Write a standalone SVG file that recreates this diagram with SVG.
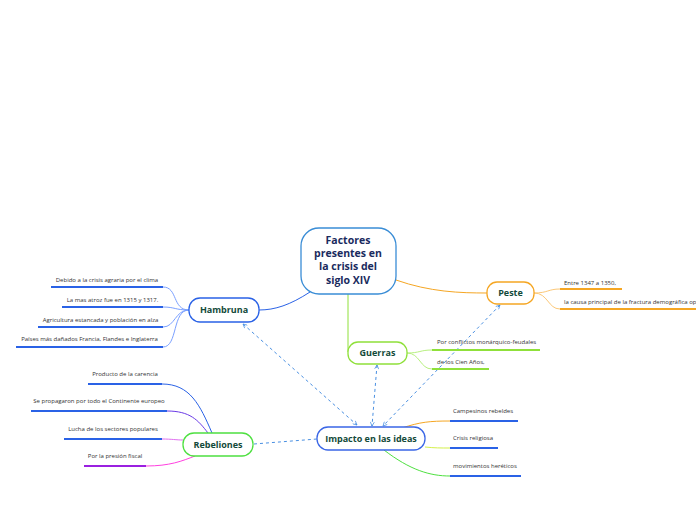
<svg xmlns="http://www.w3.org/2000/svg" width="696" height="520" viewBox="0 0 696 520">
<defs>
<style>
.nt{font-family:"Open Sans","Noto Sans",sans-serif;font-weight:bold;font-size:9px;fill:#134a3a;text-anchor:middle}
.ct{font-family:"Open Sans","Noto Sans",sans-serif;font-weight:bold;font-size:10.5px;fill:#1a2b5e;text-anchor:middle}
.lt{font-family:"Open Sans","Noto Sans",sans-serif;font-size:6px;fill:#333;text-anchor:middle}
.ltl{font-family:"Open Sans","Noto Sans",sans-serif;font-size:6px;fill:#333}
.node{fill:#fff;stroke-width:1.3}
.ul{fill:none;stroke-width:2}
.cv{fill:none;stroke-width:1}
.dash{fill:none;stroke:#4a90e2;stroke-width:1;stroke-dasharray:3 3}
</style>
<marker id="ah" viewBox="0 0 10 10" refX="9" refY="5" markerWidth="5" markerHeight="5" orient="auto-start-reverse">
<path d="M1,1 L9,5 L1,9" fill="none" stroke="#4a90e2" stroke-width="1.5"/>
</marker>
</defs>
<rect width="696" height="520" fill="#fff"/>
<g id="connectors">
<path class="cv" d="M310,292 C290,305 275,310 259,310" stroke="#2a62e6" stroke-width="1.3"/>
<path class="cv" d="M396,280 C430,292 460,293 487,293" stroke="#f5a623" stroke-width="1.3"/>
<path class="cv" d="M348,294 L348,352" stroke="#8fe03a" stroke-width="1.3"/>
<path class="dash" d="M243,324 L357,425" marker-start="url(#ah)" marker-end="url(#ah)"/>
<path class="dash" d="M377,365 L372,426" marker-start="url(#ah)" marker-end="url(#ah)"/>
<path class="dash" d="M500,305 L383,426" marker-start="url(#ah)" marker-end="url(#ah)"/>
<path class="dash" d="M254,444 L317,439"/>
</g>
<g id="hambruna-branches">
<path class="cv" d="M189,310 C172,310 178,287 163,287" stroke="#7aa0ff"/>
<path class="cv" d="M189,310 C175,310 175,307 163,307" stroke="#7aa0ff"/>
<path class="cv" d="M189,310 C175,310 175,327 163,327" stroke="#7aa0ff"/>
<path class="cv" d="M189,310 C172,310 178,347 163,347" stroke="#7aa0ff"/>
<path class="ul" d="M51,287 H163 M62,307 H163 M38,327 H163 M16,347 H163" stroke="#2a62e6"/>
<text class="lt" x="107" y="282">Debido a la crisis agraria por el clima</text>
<text class="lt" x="112.5" y="302">La mas atroz fue en 1315 y 1317.</text>
<text class="lt" x="100.5" y="322">Agricultura estancada y población en alza</text>
<text class="lt" x="89.5" y="341">Países más dañados Francia, Flandes e Inglaterra</text>
</g>
<g id="peste-branches">
<path class="cv" d="M534,293 C548,293 548,289 560,289" stroke="#fcc878"/>
<path class="cv" d="M534,293 C548,293 548,309 560,309" stroke="#fcc878"/>
<path class="ul" d="M560,289 H622 M560,309 H696" stroke="#f5a623"/>
<text class="ltl" x="564" y="285">Entre 1347 a 1350,</text>
<text class="ltl" x="564" y="304">la causa principal de la fractura demográfica op</text>
</g>
<g id="guerras-branches">
<path class="cv" d="M407,353 C420,353 420,350 432,350" stroke="#b8f080"/>
<path class="cv" d="M407,353 C420,353 420,369 432,369" stroke="#b8f080"/>
<path class="ul" d="M432,350 H540 M432,369 H489" stroke="#8fe03a"/>
<text class="ltl" x="437" y="344">Por conflictos monárquico-feudales</text>
<text class="ltl" x="437" y="364">de los Cien Años,</text>
</g>
<g id="impacto-branches">
<path class="cv" d="M402,428 C420,422 430,421 450,421" stroke="#f5a623"/>
<path class="cv" d="M425,447 C435,448 440,448 450,448" stroke="#d4f04a"/>
<path class="cv" d="M384,450 C410,470 430,476 450,476" stroke="#4ee040" stroke-width="1.3"/>
<path class="ul" d="M450,421 H518 M450,448 H498 M450,476 H521" stroke="#2a62e6"/>
<text class="ltl" x="453" y="413">Campesinos rebeldes</text>
<text class="ltl" x="453" y="440">Crisis religiosa</text>
<text class="ltl" x="453" y="468">movimientos heréticos</text>
</g>
<g id="rebeliones-branches">
<path class="cv" d="M162,384 C190,384 200,405 212,433" stroke="#2a62e6" stroke-width="1.3"/>
<path class="cv" d="M167,411 C190,411 198,420 208,433" stroke="#6a3ae6" stroke-width="1.3"/>
<path class="cv" d="M162,439 C172,439 176,440 183,440" stroke="#e070f0"/>
<path class="cv" d="M146,466 C170,466 182,461 195,456" stroke="#ff40e0" stroke-width="1.3"/>
<path class="ul" d="M88,384 H162 M31,411 H167 M64,439 H162" stroke="#2a62e6"/>
<path class="ul" d="M84,466 H146" stroke="#9a20e0"/>
<text class="lt" x="125" y="376">Producto de la carencia</text>
<text class="lt" x="99" y="403">Se propagaron por todo el Continente europeo</text>
<text class="lt" x="113" y="431">Lucha de los sectores populares</text>
<text class="lt" x="115" y="458">Por la presión fiscal</text>
</g>
<g id="central">
<rect class="node" x="301" y="228" width="95" height="66" rx="18" stroke="#3a8dd6"/>
<text class="ct" x="348" y="244">Factores</text>
<text class="ct" x="348" y="257">presentes en</text>
<text class="ct" x="348" y="270">la crisis del</text>
<text class="ct" x="348" y="284">siglo XIV</text>
</g>
<g id="hambruna">
<rect class="node" x="189" y="298" width="70" height="24" rx="11" stroke="#2a62e6"/>
<text class="nt" x="224" y="313">Hambruna</text>
</g>
<g id="peste">
<rect class="node" x="487" y="282" width="47" height="22" rx="10" stroke="#f5a623"/>
<text class="nt" x="510.5" y="296">Peste</text>
</g>
<g id="guerras">
<rect class="node" x="348" y="342" width="59" height="22" rx="10" stroke="#8fe03a"/>
<text class="nt" x="377.5" y="356">Guerras</text>
</g>
<g id="impacto">
<rect class="node" x="317" y="427" width="108" height="23" rx="11" stroke="#3a66e6"/>
<text class="nt" x="371" y="442">Impacto en las ideas</text>
</g>
<g id="rebeliones">
<rect class="node" x="183" y="433" width="70" height="23" rx="11" stroke="#4ee040"/>
<text class="nt" x="218" y="448">Rebeliones</text>
</g>
</svg>
